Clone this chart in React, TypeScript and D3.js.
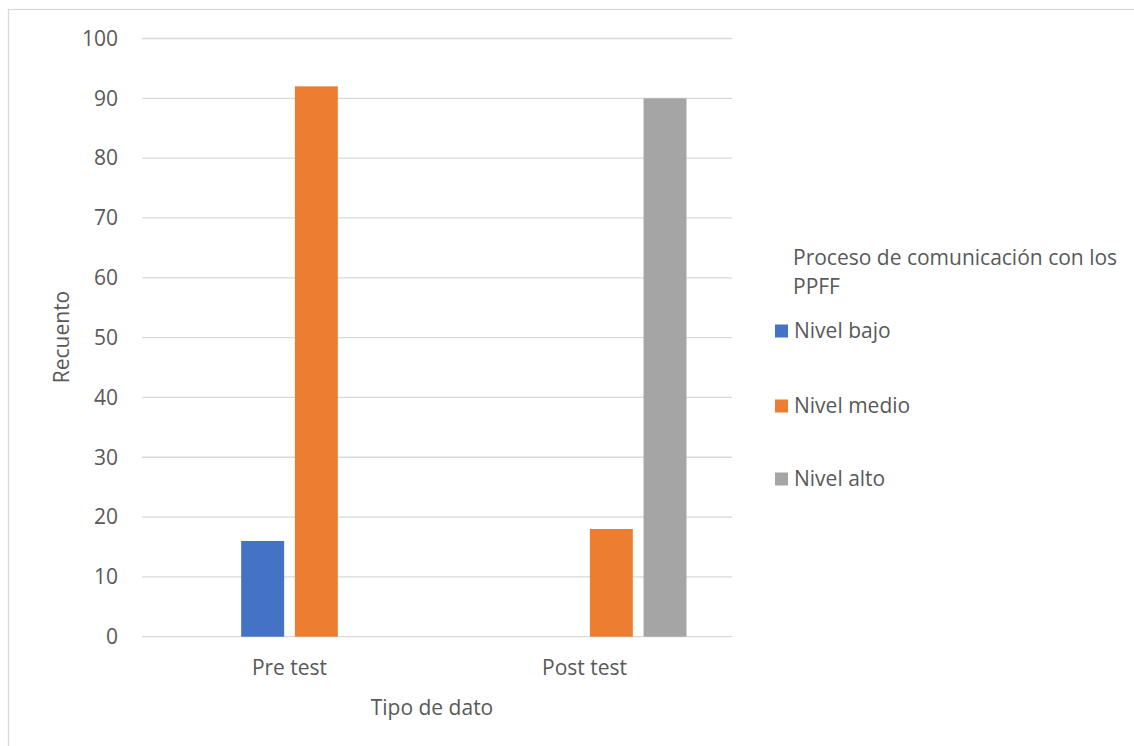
import React from "react";
import * as d3 from "d3";

const categories = ["Pre test", "Post test"];
// first slot is an empty series that Excel keeps in the cluster (not in legend)
const seriesNames = ["", "Nivel bajo", "Nivel medio", "Nivel alto"];
const emptyValues = [0, 0];
const nivelBajo = [16, 0];
const nivelMedio = [92, 18];
const nivelAlto = [0, 90];
const yTicks = [0, 10, 20, 30, 40, 50, 60, 70, 80, 90, 100];
const legendTitle = ["Proceso de comunicación con los", "PPFF"];
const xTitle = "Tipo de dato";
const yTitle = "Recuento";

const seriesValues = [emptyValues, nivelBajo, nivelMedio, nivelAlto];
const colors = ["none", "#4472C4", "#ED7D31", "#A5A5A5"];

const FONT = "'Open Sans', sans-serif";
const TXT = "#595959";

export default function App() {
  const left = 142, right = 732, top = 38.5, bottom = 636.7;
  const x0 = d3.scaleBand<string>().domain(categories).range([left, right]).padding(0);
  const x1 = d3.scaleBand<string>().domain(seriesNames.map((_, i) => String(i))).range([-102, 102]).paddingInner(0.2).paddingOuter(0);
  const y = d3.scaleLinear().domain([0, 100]).range([bottom, top]);

  const legendItems = seriesNames.map((n, i) => ({ n, i })).filter(d => d.n !== "");
  const legendY = [331, 406, 479];

  return (
    <svg width={1134} height={746} style={{ position: "absolute", left: 0, top: 0, background: "#fff" }} fontFamily={FONT}>
      <rect x={8.5} y={9.5} width={1300} height={900} fill="#fff" stroke="#d9d9d9" strokeWidth={1.3} />
      {yTicks.map(t => (
        <g key={t}>
          <line x1={left} x2={right} y1={y(t)} y2={y(t)} stroke="#d9d9d9" strokeWidth={1.3} />
          <text x={118} y={y(t)} dy="0.35em" textAnchor="end" fontSize={21} fill={TXT}>{t}</text>
        </g>
      ))}
      {categories.map((c, ci) => (
        <g key={c}>
          {seriesValues.map((vals, si) => {
            const v = vals[ci];
            if (!v || colors[si] === "none") return null;
            const cx = x0(c)! + x0.bandwidth() / 2;
            const bx = cx + x1(String(si))!;
            return <rect key={si} x={bx} y={y(v)} width={x1.bandwidth()} height={y(0) - y(v)} fill={colors[si]} />;
          })}
          <text x={x0(c)! + x0.bandwidth() / 2} y={668} dy="0.35em" textAnchor="middle" fontSize={21} fill={TXT}>{c}</text>
        </g>
      ))}
      <text x={x0.range()[0] / 2 + x0.range()[1] / 2 - 5} y={708} dy="0.35em" textAnchor="middle" fontSize={21} fill={TXT}>{xTitle}</text>
      <text transform={`translate(62,337) rotate(-90)`} dy="0.35em" textAnchor="middle" fontSize={21} fill={TXT}>{yTitle}</text>
      {legendTitle.map((l, i) => (
        <text key={i} x={793} y={258 + i * 29} dy="0.35em" fontSize={21} fill={TXT}>{l}</text>
      ))}
      {legendItems.map((d, k) => (
        <g key={d.n}>
          <rect x={775} y={legendY[k] - 6.5} width={13} height={13} fill={colors[d.i]} />
          <text x={794} y={legendY[k]} dy="0.35em" fontSize={21} fill={TXT}>{d.n}</text>
        </g>
      ))}
    </svg>
  );
}
